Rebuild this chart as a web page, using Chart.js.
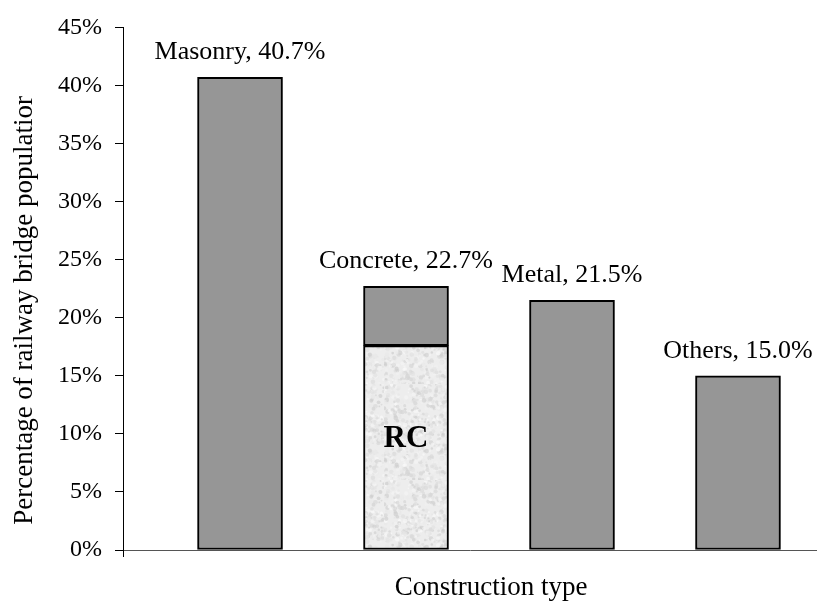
<!DOCTYPE html>
<html>
<head>
<meta charset="utf-8">
<script src="https://cdn.jsdelivr.net/npm/chart.js@4/dist/chart.umd.min.js"></script>
<style>
  html, body { margin: 0; padding: 0; background: #ffffff; }
  #wrap { width: 817px; height: 601px; position: relative; }
</style>
</head>
<body>
<div id="wrap"><canvas id="chart" width="817" height="601"></canvas></div>
<script>
// Share of the railway bridge population by construction type (%)
const categories = ['Masonry', 'Concrete', 'Metal', 'Others'];
const shares = [40.7, 22.7, 21.5, 15.0];
// Reinforced-concrete part of the concrete bridges (%)
const rcCategory = 'Concrete';
const rcShare = 17.6;
const yTicks = [0, 5, 10, 15, 20, 25, 30, 35, 40, 45];
const xTitle = 'Construction type';
const yTitle = 'Percentage of railway bridge populatior';

const FONT = '"Liberation Serif", "Times New Roman", serif';

// Light speckled fill for the RC segment
function speckleFill() {
  const c = document.createElement('canvas');
  c.width = 96; c.height = 96;
  const g = c.getContext('2d');
  g.fillStyle = '#ededed';
  g.fillRect(0, 0, 96, 96);
  const h = n => { const s = Math.sin(n * 12.9898) * 43758.5453; return s - Math.floor(s); };
  for (let i = 0; i < 900; i++) {
    const x = h(i * 3 + 1) * 96, y = h(i * 3 + 2) * 96;
    const v = Math.round(205 + h(i * 3 + 3) * 45);
    g.fillStyle = `rgba(${v},${v},${v},0.7)`;
    g.beginPath();
    g.arc(x, y, 0.8 + h(i * 7 + 5) * 1.6, 0, Math.PI * 2);
    g.fill();
  }
  return g.createPattern(c, 'repeat');
}

const rcIndex = categories.indexOf(rcCategory);
const xOf = i => i + 1;

const rcData = [{ x: xOf(rcIndex), y: rcShare }];
const restData = categories.map((c, i) => ({ x: xOf(i), y: i === rcIndex ? +(shares[i] - rcShare).toFixed(1) : shares[i] }));

// Value labels above each bar, the "RC" tag, and the two axis titles
const labelPlugin = {
  id: 'barLabels',
  afterDatasetsDraw(chart) {
    const ctx = chart.ctx;
    const area = chart.chartArea;
    const top = chart.getDatasetMeta(1).data;
    ctx.save();
    ctx.fillStyle = '#000';
    ctx.textAlign = 'center';
    ctx.textBaseline = 'alphabetic';
    ctx.font = `26px ${FONT}`;
    categories.forEach((c, i) => {
      const el = top[i];
      ctx.fillText(`${c}, ${shares[i].toFixed(1)}%`, el.x, el.y - 18);
    });
    const rc = chart.getDatasetMeta(0).data[0];
    ctx.font = `bold 31px ${FONT}`;
    ctx.fillText('RC', rc.x, rc.y + 101);

    // axis titles
    ctx.font = `27px ${FONT}`;
    ctx.fillText(xTitle, area.left + 368, 595);
    ctx.translate(25, area.top + 283);
    ctx.rotate(-Math.PI / 2);
    ctx.textBaseline = 'middle';
    ctx.fillText(yTitle, 0, 0);
    ctx.restore();
  }
};

new Chart(document.getElementById('chart'), {
  type: 'bar',
  data: {
    datasets: [
      {
        label: 'RC',
        data: rcData,
        backgroundColor: speckleFill(),
        borderColor: '#000',
        borderWidth: 2,
        borderSkipped: false,
        barThickness: 85
      },
      {
        label: 'Share',
        data: restData,
        backgroundColor: '#969696',
        borderColor: '#000',
        borderWidth: 2,
        borderSkipped: false,
        barThickness: 85
      }
    ]
  },
  options: {
    responsive: false,
    animation: false,
    layout: { padding: { top: 24, right: 0, bottom: 44, left: 0 } },
    plugins: {
      legend: { display: false },
      tooltip: { enabled: false }
    },
    scales: {
      x: {
        type: 'linear',
        stacked: true,
        offset: false,
        min: 0.295,
        max: 4.476,
        afterBuildTicks: s => { s.ticks = [{ value: s.min }]; },
        ticks: { display: false },
        grid: { display: true, offset: false, drawOnChartArea: false, drawTicks: true, tickLength: 7, color: '#000', lineWidth: 1 },
        border: { display: true, color: '#555', width: 1 }
      },
      y: {
        stacked: true,
        min: 0,
        max: 45,
        afterBuildTicks: s => { s.ticks = yTicks.map(v => ({ value: v })); },
        afterFit: s => { s.width = 123; },
        ticks: {
          color: '#000',
          font: { family: FONT, size: 24 },
          padding: 13,
          callback: v => v + '%'
        },
        grid: { drawOnChartArea: false, drawTicks: true, tickLength: 8, color: '#000', lineWidth: 1 },
        border: { display: true, color: '#000', width: 1 }
      }
    }
  },
  plugins: [labelPlugin]
});
</script>
</body>
</html>
